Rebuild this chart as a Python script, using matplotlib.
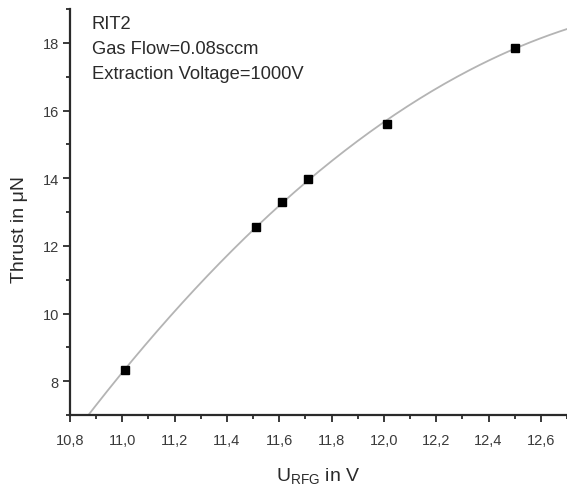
"""Thrust vs RF generator voltage, RIT2 at 0.08 sccm / 1000 V extraction."""
import matplotlib
matplotlib.use('Agg')
import matplotlib.pyplot as plt
import numpy as np
from matplotlib.ticker import MultipleLocator, FormatStrFormatter, FuncFormatter

plt.rcParams['font.family'] = ['Liberation Sans', 'DejaVu Sans']
plt.rcParams['mathtext.fontset'] = 'custom'
plt.rcParams['mathtext.rm'] = 'Liberation Sans'

# measured points
u_rfg = [11.01, 11.51, 11.61, 11.71, 12.01, 12.50]
thrust = [8.33, 12.55, 13.30, 13.99, 15.59, 17.86]

# 2nd order fit through the measurements, drawn across the whole axis
coef = np.polyfit(u_rfg, thrust, 2)
fit_u = np.linspace(10.8, 12.7, 200)
fit_thrust = np.polyval(coef, fit_u)

fig = plt.figure(figsize=(5.67, 4.85), dpi=100)
ax = fig.add_axes([70/567, 69/485, 497/567, 406/485])

ax.plot(fit_u, fit_thrust, color='#b4b4b4', linewidth=1.3, zorder=2)
ax.plot(u_rfg, thrust, linestyle='none', marker='s', markersize=5.5,
        color='black', zorder=3)

ax.set_xlim(10.8, 12.7)
ax.set_ylim(7, 19)

ax.xaxis.set_major_locator(MultipleLocator(0.2))
ax.xaxis.set_minor_locator(MultipleLocator(0.1))
ax.yaxis.set_major_locator(MultipleLocator(2))
ax.yaxis.set_minor_locator(MultipleLocator(1))
ax.xaxis.set_major_formatter(FuncFormatter(lambda v, p: f'{v:.1f}'.replace('.', ',')))
ax.yaxis.set_major_formatter(FormatStrFormatter('%d'))

for side in ['top', 'right']:
    ax.spines[side].set_visible(False)
for side in ['left', 'bottom']:
    ax.spines[side].set_linewidth(1.6)
    ax.spines[side].set_color('#2a2a2a')

ax.tick_params(which='major', direction='out', length=5, width=1.3,
               color='#2a2a2a', labelsize=10.5, labelcolor='#3a3a3a')
ax.tick_params(which='minor', direction='out', length=3, width=1.3, color='#2a2a2a')
ax.tick_params(axis='x', which='major', pad=8)
ax.tick_params(axis='y', which='major', pad=3)

ax.set_xlabel(r'$\mathregular{U_{RFG}}$ in V', fontsize=14, color='#2a2a2a', labelpad=13)
ax.set_ylabel('Thrust in μN', fontsize=14, color='#2a2a2a', labelpad=8)
ax.yaxis.set_label_coords(-0.085, 0.46)

ax.text(0.044, 0.985, 'RIT2\nGas Flow=0.08sccm\nExtraction Voltage=1000V',
        transform=ax.transAxes, ha='left', va='top', fontsize=13.2,
        color='#2a2a2a', linespacing=1.62)

fig.savefig('out.png', dpi=100)
